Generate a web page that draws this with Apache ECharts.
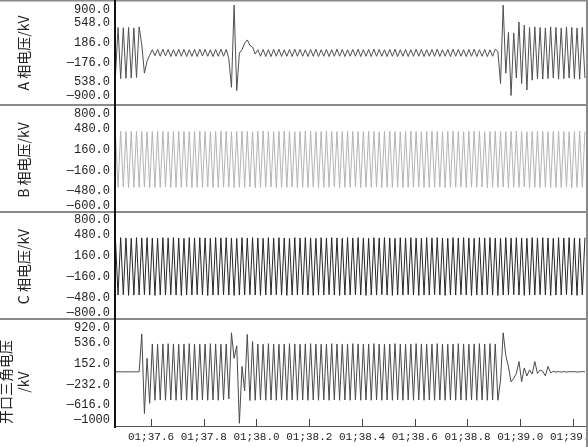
<!DOCTYPE html>
<html><head><meta charset="utf-8">
<script src="https://cdn.jsdelivr.net/npm/echarts@6/dist/echarts.min.js"></script>
<style>html,body{margin:0;padding:0;background:#fff}#c{width:588px;height:447px}</style>
</head><body><div id="c"></div>
<script>
// sampling grid: one value per half cycle (50 Hz), starting time in seconds
const T0 = 37.465, STEP = 0.01;
const xTicks = [37.6, 37.8, 38.0, 38.2, 38.4, 38.6, 38.8, 39.0, 39.2];
const xTickLabels = ['01;37.6','01;37.8','01;38.0','01;38.2','01;38.4','01;38.6','01;38.8','01;39.0','01;39.2'];
const panelNames = ['A 相电压/kV','B 相电压/kV','C 相电压/kV','开口三角电压\n/kV'];
const aTicks = [900, 548, 186, -176, -538, -900];
const aTickLabels = ['900.0','548.0','186.0','—176.0','538.0','—900.0'];
const bTicks = [800, 480, 160, -160, -480, -800];
const bTickLabels = ['800.0','480.0','160.0','—160.0','—480.0','—600.0'];
const cTicks = [800, 480, 160, -160, -480, -800];
const cTickLabels = ['800.0','480.0','160.0','—160.0','—480.0','—800.0'];
const dTicks = [920, 536, 152, -232, -616, -1000];
const dTickLabels = ['920.0','536.0','152.0','—232.0','—616.0','—1000'];

const aValues = [
-440,470,-470,465,-465,470,-460,460,-450,480,
150,-370,-150,-40,60,-50,65,-60,70,-55,
65,-65,60,-60,70,-60,65,-65,60,-60,
65,-65,70,-55,65,-60,60,-65,65,-60,
70,-60,65,-100,-630,880,-690,0,60,180,
240,140,110,-20,60,-60,65,-65,60,-65,
65,-60,70,-65,60,-60,65,-65,70,-60,
65,-60,60,-65,65,-60,70,-65,60,-60,
65,-65,60,-60,70,-60,65,-65,60,-60,
65,-60,70,-65,60,-60,65,-65,70,-60,
65,-60,60,-65,65,-60,70,-65,60,-60,
65,-65,60,-60,70,-60,65,-65,60,-60,
65,-60,70,-65,60,-60,65,-65,70,-60,
65,-60,60,-65,65,-60,70,-65,60,-60,
65,-65,60,-60,70,30,-560,880,-370,380,
-780,370,-460,570,-560,510,-680,470,-500,480,
-470,470,-480,460,-470,480,-460,470,-480,460,
-470,480,-460,470,-470,460,-480,470,-460
];
const bValues = [
440,-420,445,-415,435,-425,440,-420,445,-420,
440,-415,435,-425,440,-420,445,-420,440,-415,
435,-425,440,-420,445,-420,440,-415,435,-425,
440,-420,445,-420,440,-415,435,-425,440,-420,
445,-420,440,-415,435,-425,440,-420,445,-420,
440,-415,435,-425,440,-420,445,-420,440,-415,
435,-425,440,-420,445,-420,440,-415,435,-425,
440,-420,445,-420,440,-415,435,-425,440,-420,
445,-420,440,-415,435,-425,440,-420,445,-420,
440,-415,435,-425,440,-420,445,-420,440,-415,
435,-425,440,-420,445,-420,440,-415,435,-425,
440,-420,445,-420,440,-415,435,-425,440,-420,
445,-420,440,-415,435,-425,440,-420,445,-420,
440,-415,435,-425,440,-420,445,-420,440,-415,
435,-425,440,-420,445,-420,440,-415,435,-425,
440,-420,445,-420,440,-415,435,-425,440,-420,
445,-420,440,-415,435,-425,440,-420,445,-420,
440,-415,435,-425,440,-420,445,-420,440
];
const cValues = [
435,-435,440,-430,435,-440,430,-435,440,-435,
435,-430,440,-435,435,-440,430,-435,440,-435,
435,-430,440,-435,435,-440,430,-435,440,-435,
435,-430,440,-435,435,-440,430,-435,440,-435,
435,-430,440,-435,435,-440,430,-435,440,-435,
435,-430,440,-435,435,-440,430,-435,440,-435,
435,-430,440,-435,435,-440,430,-435,440,-435,
435,-430,440,-435,435,-440,430,-435,440,-435,
435,-430,440,-435,435,-440,430,-435,440,-435,
435,-430,440,-435,435,-440,430,-435,440,-435,
435,-430,440,-435,435,-440,430,-435,440,-435,
435,-430,440,-435,435,-440,430,-435,440,-435,
435,-430,440,-435,435,-440,430,-435,440,-435,
435,-430,440,-435,435,-440,430,-435,440,-435,
435,-430,440,-435,435,-440,430,-435,440,-435,
435,-430,440,-435,435,-440,430,-435,440,-435,
435,-430,440,-435,435,-440,430,-435,440,-435,
435,-430,440,-435,435,-440,430,-435,440
];
const dValues = [
0,0,0,0,0,0,0,0,0,0,
700,-770,250,-580,515,-525,510,-520,515,-525,
520,-520,515,-525,510,-520,515,-525,520,-520,
515,-525,510,-520,515,-525,520,-520,515,-525,
510,-520,515,-500,720,250,480,-950,100,-350,
690,-530,560,-525,515,-520,510,-525,520,-520,
515,-525,510,-520,515,-525,520,-520,515,-525,
510,-520,515,-525,520,-520,515,-525,510,-520,
515,-525,520,-520,515,-525,510,-520,515,-525,
520,-520,515,-525,510,-520,515,-525,520,-520,
515,-525,510,-520,515,-525,520,-520,515,-525,
510,-520,515,-525,520,-520,515,-525,510,-520,
515,-525,520,-520,515,-525,510,-520,515,-525,
520,-520,515,-525,510,-520,515,-525,520,-520,
515,-525,520,-520,515,-525,-150,720,300,95,
-184,-120,-30,190,-184,70,-75,35,-40,190,
-30,35,10,-75,100,-20,10,-5,5,-5,
5,-5,5,0,5,-5,0,5,0
];

const X_MIN = 37.4635, X_MAX = 39.249;
const toPairs = vals => vals.map((v, i) => [T0 + i * STEP, v]);

const numFont = 'Liberation Mono';
const cjkFont = 'Noto Sans CJK SC';

const panels = [
  {vals: aValues, ticks: aTicks, labels: aTickLabels, min: -900, max: 900, top: 4, height: 98, color: '#505050', namePad: [0, 0, 0, 0]},
  {vals: bValues, ticks: bTicks, labels: bTickLabels, min: -800, max: 800, top: 108, height: 104, color: '#b4b4b4', namePad: [0, 0, 0, 0]},
  {vals: cValues, ticks: cTicks, labels: cTickLabels, min: -800, max: 800, top: 214, height: 105, color: '#262626', namePad: [0, 0, 0, 0]},
  {vals: dValues, ticks: dTicks, labels: dTickLabels, min: -1000, max: 920, top: 322, height: 104, color: '#4a4a4a', namePad: [0, 16, 0, 0]}
];

const grid = [], xAxis = [], yAxis = [], series = [];
panels.forEach((p, k) => {
  grid.push({left: 115, right: 2, top: p.top, height: p.height, containLabel: false, outerBoundsMode: 'none'});
  const last = k === panels.length - 1;
  xAxis.push({
    type: 'value', gridIndex: k, min: X_MIN, max: X_MAX,
    splitLine: {show: false},
    axisLine: {show: last, onZero: false, lineStyle: {color: '#555', width: 1}},
    axisTick: {show: last, inside: true, length: 7, customValues: xTicks, lineStyle: {color: '#444'}},
    axisLabel: {show: last, customValues: xTicks, margin: 6, fontFamily: numFont, fontSize: 11, color: '#222',
      formatter: v => { const j = xTicks.findIndex(t => Math.abs(t - v) < 1e-6); return j >= 0 ? xTickLabels[j] : ''; }}
  });
  yAxis.push({
    type: 'value', gridIndex: k, min: p.min, max: p.max,
    splitLine: {show: false},
    axisLine: {show: false},
    axisTick: {show: false},
    name: panelNames[k], nameLocation: 'middle', nameRotate: 90, nameGap: 82,
    nameTextStyle: {fontFamily: cjkFont, fontSize: 14, color: '#222', lineHeight: 18, padding: p.namePad},
    axisLabel: {customValues: p.ticks, margin: 5, fontFamily: numFont, fontSize: 12, color: '#222',
      verticalAlignMaxLabel: 'bottom', verticalAlignMinLabel: 'top',
      formatter: v => { const j = p.ticks.indexOf(v); return j >= 0 ? p.labels[j] : ''; }}
  });
  series.push({
    type: 'line', xAxisIndex: k, yAxisIndex: k, data: toPairs(p.vals),
    showSymbol: false, symbol: 'none', lineStyle: {color: p.color, width: 1}, animation: false
  });
});

const chart = echarts.init(document.getElementById('c'), null, {renderer: 'canvas'});
chart.setOption({
  animation: false,
  backgroundColor: '#fff',
  grid, xAxis, yAxis, series,
  graphic: [
    {type: 'line', shape: {x1: 0, y1: 105, x2: 588, y2: 105}, style: {stroke: '#8a8a8a', lineWidth: 2}, z: 10},
    {type: 'line', shape: {x1: 0, y1: 212, x2: 588, y2: 212}, style: {stroke: '#8a8a8a', lineWidth: 2}, z: 10},
    {type: 'line', shape: {x1: 0, y1: 319, x2: 588, y2: 319}, style: {stroke: '#8a8a8a', lineWidth: 2}, z: 10},
    {type: 'line', shape: {x1: 0, y1: 0.5, x2: 588, y2: 0.5}, style: {stroke: '#8a8a8a', lineWidth: 2}, z: 10},
    {type: 'line', shape: {x1: 587, y1: 0, x2: 587, y2: 447}, style: {stroke: '#8a8a8a', lineWidth: 2}, z: 10},
    {type: 'line', shape: {x1: 115, y1: 0, x2: 115, y2: 428}, style: {stroke: '#111', lineWidth: 2}, z: 11}
  ]
});
</script></body></html>
